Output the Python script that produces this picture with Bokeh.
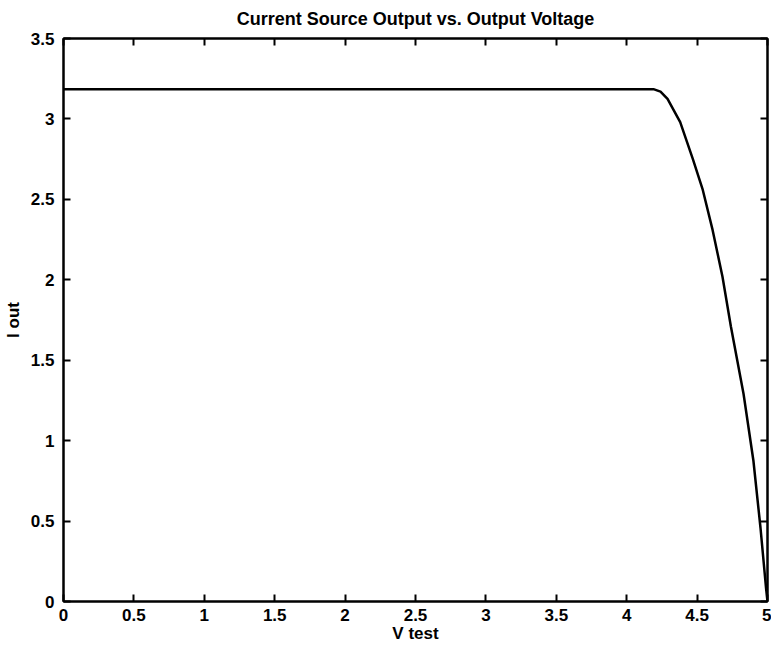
from bokeh.plotting import figure
from bokeh.models import LinearAxis, SingleIntervalTicker, CustomJSTickFormatter, Range1d
from bokeh.embed import file_html
from bokeh.resources import INLINE

# Data
v_test = [0.0, 0.5, 1.0, 1.5, 2.0, 2.5, 3.0, 3.5, 4.0, 4.19, 4.24, 4.29, 4.38,
          4.47, 4.54, 4.61, 4.68, 4.74, 4.83, 4.90, 4.95, 4.99, 5.0]
i_out = [3.185, 3.185, 3.185, 3.185, 3.185, 3.185, 3.185, 3.185, 3.185, 3.185,
         3.17, 3.125, 2.98, 2.75, 2.56, 2.31, 2.02, 1.71, 1.29, 0.875, 0.46, 0.08, 0.0]

title_text = "Current Source Output vs. Output Voltage"
x_label = "V test"
y_label = "I out"
x_range = (0, 5)
y_range = (0, 3.5)
tick_step = 0.5

FONT = "Liberation Sans"

p = figure(frame_width=704, frame_height=563, output_backend="svg", toolbar_location=None,
           x_range=Range1d(*x_range), y_range=Range1d(*y_range),
           min_border_left=0, min_border_right=0, min_border_top=0, min_border_bottom=0,
           x_axis_location=None, y_axis_location=None)

p.title.text = title_text
p.title.align = "center"
p.title.text_font = FONT
p.title.text_font_style = "bold"
p.title.text_font_size = "18px"
p.title.text_color = "black"
p.title.standoff = 12

p.grid.visible = False
p.outline_line_color = "black"
p.outline_line_width = 2
p.background_fill_color = "white"
p.border_fill_color = "white"

fmt = CustomJSTickFormatter(code="return String(Math.round(tick*10)/10)")
blank = CustomJSTickFormatter(code="return ''")

def style_axis(ax, labels=True):
    ax.ticker = SingleIntervalTicker(interval=tick_step)
    ax.axis_line_color = "black"
    ax.axis_line_width = 2
    ax.major_tick_line_color = "black"
    ax.major_tick_line_width = 2
    ax.major_tick_in = 7
    ax.major_tick_out = 0
    ax.minor_tick_line_color = None
    if labels:
        ax.formatter = fmt
        ax.major_label_text_font = FONT
        ax.major_label_text_font_style = "bold"
        ax.major_label_text_font_size = "17px"
        ax.major_label_text_color = "black"
        ax.axis_label_text_font = FONT
        ax.axis_label_text_font_style = "bold"
        ax.axis_label_text_font_size = "17px"
        ax.axis_label_text_color = "black"
    else:
        ax.formatter = blank
        ax.major_label_text_color = None
        ax.major_label_standoff = 0

xb = LinearAxis(axis_label=x_label)
style_axis(xb)
xb.major_label_standoff = 3
xb.axis_label_standoff = 0
p.add_layout(xb, "below")

yl = LinearAxis(axis_label=y_label)
style_axis(yl)
yl.major_label_standoff = 5
yl.axis_label_standoff = 5
p.add_layout(yl, "left")

xt = LinearAxis()
style_axis(xt, labels=False)
p.add_layout(xt, "above")

yr = LinearAxis()
style_axis(yr, labels=False)
p.add_layout(yr, "right")

p.line(v_test, i_out, line_color="black", line_width=2.5)

open("out.html", "w").write(file_html(p, INLINE))
